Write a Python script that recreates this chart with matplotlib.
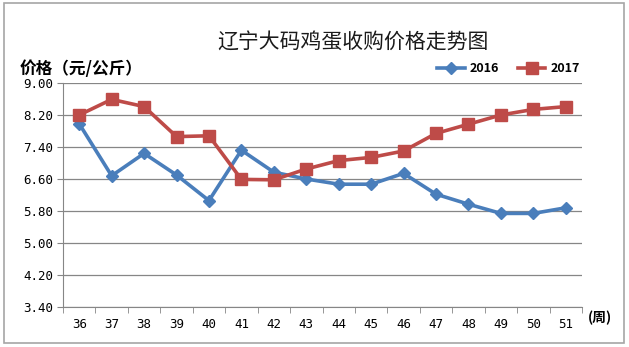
import matplotlib
matplotlib.use("Agg")
import matplotlib.pyplot as plt
import numpy as np

plt.rcParams['font.family'] = ['Noto Sans CJK SC', 'DejaVu Sans']

# data
weeks = ['36', '37', '38', '39', '40', '41', '42', '43', '44', '45', '46', '47', '48', '49', '50', '51']
price_2016 = [7.98, 6.68, 7.24, 6.70, 6.06, 7.32, 6.77, 6.60, 6.47, 6.47, 6.74, 6.22, 5.97, 5.74, 5.74, 5.88]
price_2017 = [8.20, 8.59, 8.41, 7.66, 7.68, 6.59, 6.58, 6.85, 7.06, 7.14, 7.30, 7.74, 7.97, 8.20, 8.34, 8.41]
y_ticks = [3.40, 4.20, 5.00, 5.80, 6.60, 7.40, 8.20, 9.00]

fig = plt.figure(figsize=(6.29, 3.47), dpi=100)
# light outer frame like the excel chart area
fig.patches.append(plt.Rectangle((0.006, 0.012), 0.986, 0.978, transform=fig.transFigure,
                                  fill=False, edgecolor='#a6a6a6', linewidth=1.2))

ax = fig.add_axes([63 / 629, 1 - 307 / 347, (582 - 63) / 629, (307 - 83) / 347])

x = np.arange(len(weeks))
ax.plot(x, price_2016, color='#4a7ebb', linewidth=2.6, marker='D', markersize=6, label='2016')
ax.plot(x, price_2017, color='#be4b48', linewidth=2.6, marker='s', markersize=8, label='2017')

ax.set_xlim(-0.5, len(weeks) - 0.5)
ax.set_ylim(3.40, 9.00)
ax.set_yticks(y_ticks)
ax.set_yticklabels(['%.2f' % v for v in y_ticks], fontsize=9, family=['DejaVu Sans Mono'])
ax.set_xticks(x)
ax.set_xticklabels(weeks, fontsize=9, family=['DejaVu Sans Mono'])
ax.set_xticks(np.arange(-0.5, len(weeks)), minor=True)
ax.tick_params(axis='x', which='major', length=0, pad=8)
ax.tick_params(axis='x', which='minor', length=4, color='#868686', direction='out')
ax.tick_params(axis='y', length=4, color='#868686', pad=3)

ax.grid(axis='y', color='#868686', linewidth=0.9)
ax.set_axisbelow(True)
for s in ['top', 'right']:
    ax.spines[s].set_visible(False)
for s in ['left', 'bottom']:
    ax.spines[s].set_color('#868686')

fig.text(353 / 629, 1 - 42 / 347, '辽宁大码鸡蛋收购价格走势图', ha='center', va='center',
         fontsize=15, color='#1a1a1a')
fig.text(20 / 629, 1 - 69 / 347, '价格（元/公斤）', ha='left', va='center', fontsize=12, fontweight='bold')
fig.text(588 / 629, 1 - 318 / 347, '(周)', ha='left', va='center', fontsize=10, fontweight='bold')

leg = ax.legend(loc='lower right', bbox_to_anchor=(1.01, 1.0), ncol=2, frameon=False,
                prop={'weight': 'bold', 'size': 9}, handlelength=2.2, columnspacing=1.5,
                borderaxespad=0.2, handletextpad=0.4)

fig.savefig('out.png', dpi=100)
